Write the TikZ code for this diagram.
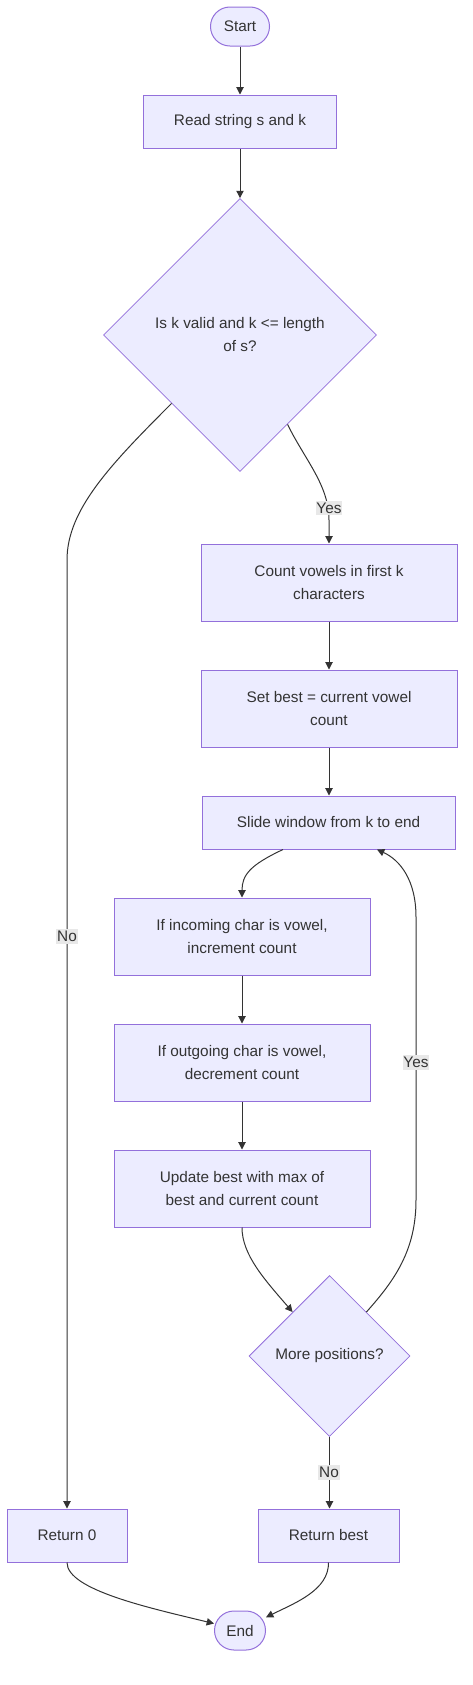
\documentclass[tikz,border=0pt]{standalone}
\usepackage{fontspec}
\setmainfont{Liberation Sans}
\usetikzlibrary{shapes.geometric,arrows.meta,calc}
\definecolor{mfill}{HTML}{ECECFF}
\definecolor{mborder}{HTML}{9370DB}
\definecolor{mline}{HTML}{333333}
\definecolor{mlbl}{HTML}{E8E8E8}
\begin{document}
\begin{tikzpicture}[x=0.75pt,y=-0.75pt,
  every node/.style={font=\fontsize{11.5}{17.25}\selectfont, text=mline},
  box/.style={draw=mborder, fill=mfill, line width=0.75pt, rectangle, align=center, inner sep=0pt},
  term/.style={box, rounded corners=14.6pt},
  dec/.style={draw=mborder, fill=mfill, line width=0.6pt, diamond, aspect=1, align=center, inner sep=0pt},
  edge/.style={draw=mline, line width=0.75pt, -{Triangle[length=5.5pt,width=5.5pt]}},
  lbl/.style={fill=mlbl, inner xsep=0.6pt, inner ysep=1.5pt}
]
\useasboundingbox (0,0) rectangle (473,1685);

\node[term, minimum width=44.25pt, minimum height=29.25pt] (start) at (240,26.5) {Start};
\node[box, minimum width=144.75pt, minimum height=39.75pt] (read) at (240,121.5) {Read string s and k};
\node[dec, minimum width=204.75pt, minimum height=204.75pt] (d1) at (240,335) {Is k valid and k <= length\\of s?};
\node[box, minimum width=192pt, minimum height=57.75pt] (count) at (329,582.5) {Count vowels in first k\\characters};
\node[box, minimum width=192pt, minimum height=57.75pt] (set) at (329,708.5) {Set best = current vowel\\count};
\node[box, minimum width=189.75pt, minimum height=39.75pt] (slide) at (328.5,822.5) {Slide window from k to end};
\node[box, minimum width=192pt, minimum height=57.75pt] (inc) at (242,936.5) {If incoming char is vowel,\\increment count};
\node[box, minimum width=192pt, minimum height=57.75pt] (out) at (242,1062.5) {If outgoing char is vowel,\\decrement count};
\node[box, minimum width=192pt, minimum height=57.75pt] (upd) at (242,1188.5) {Update best with max of\\best and current count};
\node[dec, minimum width=120.75pt, minimum height=120.75pt] (d2) at (329.5,1356) {More positions?};
\node[box, minimum width=90pt, minimum height=39.75pt] (ret0) at (67,1535.5) {Return 0};
\node[box, minimum width=105.75pt, minimum height=39.75pt] (retb) at (328.5,1535.5) {Return best};
\node[term, minimum width=38.25pt, minimum height=29.25pt] (endn) at (240,1630.5) {End};

\draw[edge] (start) -- (read);
\draw[edge] (read) -- (d1);
\draw[edge] (d1.-62.4) .. controls (305,460) and (329,485) .. (329,520) -- (count.north);
\draw[edge] (d1.-135.4) .. controls (110,465) and (67,510) .. (67,560) -- (ret0.north);
\draw[edge] (count) -- (set);
\draw[edge] (set.south) -- (set.south |- slide.north);
\draw[edge] ($(slide.south)+(-45.5,0)$) .. controls (250,865) and (242,875) .. (inc.north);
\draw[edge] (inc) -- (out);
\draw[edge] (out) -- (upd);
\draw[edge] (upd.south) .. controls (242,1255) and (265,1280) .. (d2.130.3);
\draw[edge] (d2.50.3) .. controls (395,1280) and (416,1250) .. (416,1200) -- (416,917) .. controls (416,880) and (400,860) .. ($(slide.south)+(48.5,0)$);
\draw[edge] (d2.south) -- (d2.south |- retb.north);
\draw[edge] (ret0.south) .. controls (67,1590) and (150,1608) .. (endn.165);
\draw[edge] (retb.south) .. controls (329,1590) and (295,1603) .. (endn.27);

\node[lbl] (ly1) at (329,508) {Yes};
\node[lbl] (ln1) at (67,936.5) {No};
\node[lbl] (ly2) at (416,1062.5) {Yes};
\node[lbl] (ln2) at (329,1472.5) {No};
\end{tikzpicture}
\end{document}
